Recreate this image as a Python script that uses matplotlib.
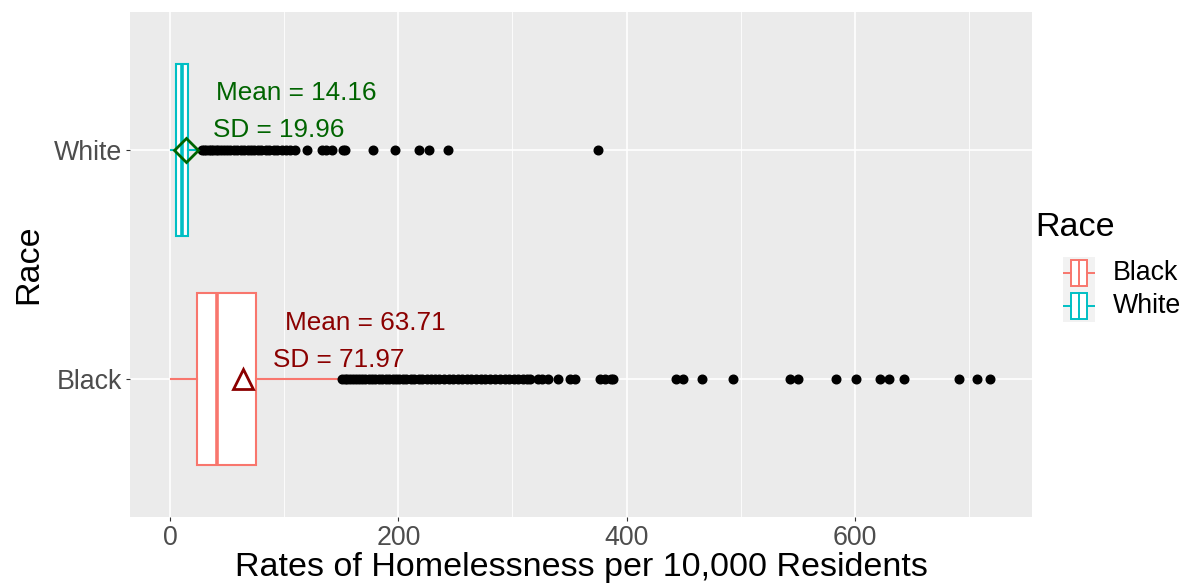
import matplotlib.pyplot as plt
from matplotlib.patches import Rectangle

plt.rcParams['font.family'] = ['Liberation Sans', 'DejaVu Sans']

# summary of homelessness rates per 10,000 residents by race
races = ["Black", "White"]
colors = ["#F8766D", "#00BFC4"]
q1 = [23.9, 5.4]
median = [40.9, 10.8]
q3 = [75.3, 16.2]
whisk_lo = [0.6, 0.6]
whisk_hi = [151.0, 27.0]
means = [63.71, 14.16]
sds = [71.97, 19.96]
mean_markers = ["^", "D"]
mean_colors = ["darkred", "darkgreen"]

black_outliers = [151, 153, 155, 158, 160, 163, 166, 168, 171, 174, 177, 180,
                  183, 186, 189, 192, 195, 198, 201, 204, 207, 211, 214, 218,
                  221, 225, 229, 232, 236, 240, 244, 248, 252, 256, 260, 264,
                  268, 272, 276, 280, 285, 289, 293, 297, 301, 305, 309, 313,
                  315, 322, 326, 331, 340, 350, 355, 377, 381, 386, 388, 443,
                  449, 466, 493, 543, 550, 583, 601, 622, 630, 643, 691, 707,
                  718]
white_outliers = [28, 30, 32, 34, 36, 38, 40, 42, 45, 47, 50, 53, 56, 59, 62,
                  65, 68, 71, 74, 77, 80, 84, 87, 91, 94, 98, 102, 105, 109.5,
                  120, 133, 137, 142, 151.5, 153, 177.6, 197.1, 217.8, 226.5,
                  243.7, 374.7]
outliers = [black_outliers, white_outliers]

# where the mean / sd labels sit (x in data units)
label_x_mean = [171, 111]
label_x_sd = [148, 95]

fig = plt.figure(figsize=(11.83, 5.87), dpi=100)
ax = fig.add_axes([130 / 1183, 70 / 587, 902 / 1183, 505 / 587])
ax.set_facecolor("#EBEBEB")
for s in ax.spines.values():
    s.set_visible(False)

ax.set_xlim(-35, 755)
ax.set_ylim(0.4, 2.6)
ax.set_xticks([0, 200, 400, 600])
ax.set_xticks([100, 300, 500, 700], minor=True)
ax.grid(which="major", color="white", linewidth=1.2)
ax.grid(which="minor", axis="x", color="white", linewidth=0.6)
ax.set_axisbelow(True)
ax.tick_params(which="major", length=3.2, width=0.8, color="#333333",
               labelsize=19.3, labelcolor="#4D4D4D", pad=2.5)
ax.tick_params(which="minor", length=0)

stats = []
for i, r in enumerate(races):
    stats.append(dict(label=r, q1=q1[i], med=median[i], q3=q3[i],
                      whislo=whisk_lo[i], whishi=whisk_hi[i],
                      fliers=outliers[i], mean=means[i]))

for i, st in enumerate(stats):
    ax.bxp([st], positions=[i + 1], widths=0.75, orientation="horizontal",
           showcaps=False, showfliers=True, patch_artist=True,
           boxprops=dict(facecolor="white", edgecolor=colors[i], linewidth=1.5),
           whiskerprops=dict(color=colors[i], linewidth=1.5),
           medianprops=dict(color=colors[i], linewidth=2.6),
           flierprops=dict(marker="o", markerfacecolor="black",
                           markeredgecolor="black", markersize=6.2))
    ax.plot(means[i], i + 1, marker=mean_markers[i],
            markersize=14 if i == 0 else 12.5,
            markerfacecolor="none", markeredgecolor=mean_colors[i],
            markeredgewidth=2, zorder=5)
    ax.text(label_x_mean[i], i + 1 + 0.246, f"Mean = {means[i]:.2f}",
            color=mean_colors[i], fontsize=18.8, ha="center", va="center")
    ax.text(label_x_sd[i], i + 1 + 0.085, f"SD = {sds[i]:.2f}",
            color=mean_colors[i], fontsize=18.8, ha="center", va="center")

ax.set_yticks([1, 2])
ax.set_yticklabels(races)
ax.set_xlabel("Rates of Homelessness per 10,000 Residents", fontsize=24.5,
              labelpad=1)
ax.set_ylabel("Race", fontsize=24.5, labelpad=7)

# legend drawn as little boxplot keys
fig.text(1035 / 1183, 1 - 227 / 587, "Race", fontsize=24.5, va="center")
lax = fig.add_axes([1063 / 1183, 1 - 322 / 587, 32 / 1183, 65 / 587])
lax.set_xlim(0, 1)
lax.set_ylim(0, 2)
lax.axis("off")
for i, r in enumerate(races):
    yb = 1 - i
    lax.add_patch(Rectangle((0, yb), 1, 1, facecolor="#F2F2F2", edgecolor="none"))
    lax.add_patch(Rectangle((0.25, yb + 0.1), 0.5, 0.8, facecolor="white",
                            edgecolor=colors[i], linewidth=1.4))
    lax.plot([0.5, 0.5], [yb + 0.1, yb + 0.9], color=colors[i], linewidth=1.4)
    lax.plot([0, 0.25], [yb + 0.5, yb + 0.5], color=colors[i], linewidth=1.4)
    lax.plot([0.75, 1], [yb + 0.5, yb + 0.5], color=colors[i], linewidth=1.4)
    fig.text(1113 / 1183, 1 - (273 + 33 * i) / 587, r, fontsize=19.3,
             va="center")

fig.savefig("out.png", dpi=100)
